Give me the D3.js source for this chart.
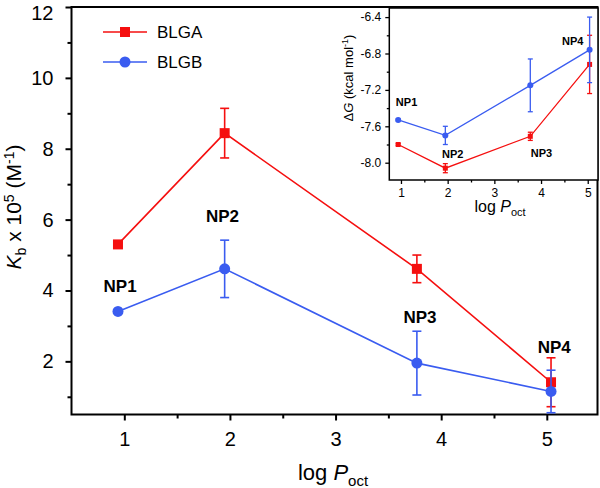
<!DOCTYPE html>
<html>
<head>
<meta charset="utf-8">
<script src="https://cdn.jsdelivr.net/npm/d3@7"></script>
<style>
  html, body { margin: 0; padding: 0; background: #fff; }
  svg { display: block; font-family: "Liberation Sans", Arial, sans-serif; }
</style>
</head>
<body>
<svg id="chart" width="600" height="488"></svg>
<script>
// ---------- data ----------
const compounds = ["NP1", "NP2", "NP3", "NP4"];
const logP = [0.94, 1.95, 3.77, 5.04];
const kbA = [5.30, 8.44, 4.61, 1.41];
const kbAErr = [0.05, 0.70, 0.39, 0.69];
const kbB = [3.41, 4.61, 1.95, 1.15];
const kbBErr = [0.05, 0.81, 0.90, 0.60];
const dGA = [-7.80, -8.06, -7.71, -6.92];
const dGAErr = [0.01, 0.05, 0.045, 0.32];
const dGB = [-7.53, -7.70, -7.15, -6.76];
const dGBErr = [0.01, 0.10, 0.29, 0.36];
const mainXTicks = [1, 2, 3, 4, 5];
const mainXMinor = [1.5, 2.5, 3.5, 4.5];
const mainYTicks = [2, 4, 6, 8, 10, 12];
const mainYMinor = [1, 3, 5, 7, 9, 11];
const insetXTicks = [1, 2, 3, 4, 5];
const insetXMinor = [1.5, 2.5, 3.5, 4.5];
const insetYTicks = [-8.0, -7.6, -7.2, -6.8, -6.4];
const insetYMinor = [-7.8, -7.4, -7.0, -6.6];
// label anchor positions (data units)
const mainLabelX = [0.96, 1.93, 3.80, 5.07];
const mainLabelY = [3.96, 5.93, 3.08, 2.24];
const insetLabelX = [1.12, 2.11, 4.01, 4.68];
const insetLabelY = [-7.377, -7.948, -7.934, -6.706];
const seriesNames = ["BLGA", "BLGB"];

const RED = "#f50f0f";
const BLUE = "#3a5cf0";

const svg = d3.select("#chart");

// ---------- main plot ----------
const x = d3.scaleLinear().domain([0.5, 5.48]).range([71.5, 597.5]);
const y = d3.scaleLinear().domain([0.5, 12]).range([414.5, 7]);

function drawAxes(g, xs, ys, opt) {
  const [x0, x1] = xs.range();
  const [y0, y1] = ys.range();
  const ax = g.append("g").attr("transform", `translate(0,${y0})`)
    .call(d3.axisBottom(xs).tickValues(opt.xt).tickSize(opt.tick).tickPadding(opt.xpad).tickSizeOuter(0).tickFormat(opt.xf));
  ax.select(".domain").remove();
  ax.selectAll("line").attr("stroke-width", opt.sw);
  ax.selectAll("text").attr("font-size", opt.fs).attr("fill", "#000").attr("font-family", "Liberation Sans, Arial, sans-serif");
  const axm = g.append("g").attr("transform", `translate(0,${y0})`)
    .call(d3.axisBottom(xs).tickValues(opt.xm).tickSize(opt.mtick).tickFormat(""));
  axm.select(".domain").remove();
  axm.selectAll("line").attr("stroke-width", opt.sw);

  const ay = g.append("g").attr("transform", `translate(${x0},0)`)
    .call(d3.axisLeft(ys).tickValues(opt.yt).tickSize(opt.tick).tickPadding(opt.ypad).tickSizeOuter(0).tickFormat(opt.yf));
  ay.select(".domain").remove();
  ay.selectAll("line").attr("stroke-width", opt.sw);
  ay.selectAll("text").attr("font-size", opt.fs).attr("fill", "#000").attr("font-family", "Liberation Sans, Arial, sans-serif");
  const aym = g.append("g").attr("transform", `translate(${x0},0)`)
    .call(d3.axisLeft(ys).tickValues(opt.ym).tickSize(opt.mtick).tickFormat(""));
  aym.select(".domain").remove();
  aym.selectAll("line").attr("stroke-width", opt.sw);

  g.append("rect").attr("x", x0).attr("y", y1).attr("width", x1 - x0).attr("height", y0 - y1)
    .attr("fill", "none").attr("stroke", "#000").attr("stroke-width", opt.fw);
  return ay;
}

function drawSeries(g, xs, ys, vals, errs, color, shape, opt) {
  const pts = logP.map((p, i) => ({ x: p, y: vals[i], e: errs[i] }));
  const line = d3.line().x(d => xs(d.x)).y(d => ys(d.y));
  g.append("path").datum(pts).attr("d", line).attr("fill", "none")
    .attr("stroke", color).attr("stroke-width", opt.lw);
  const eb = g.append("g").attr("stroke", color).attr("stroke-width", opt.lw);
  pts.forEach(d => {
    const cx = xs(d.x), yt = ys(d.y + d.e), yb = ys(d.y - d.e);
    eb.append("line").attr("x1", cx).attr("x2", cx).attr("y1", yt).attr("y2", yb);
    eb.append("line").attr("x1", cx - opt.cap).attr("x2", cx + opt.cap).attr("y1", yt).attr("y2", yt);
    eb.append("line").attr("x1", cx - opt.cap).attr("x2", cx + opt.cap).attr("y1", yb).attr("y2", yb);
  });
  if (shape === "square") {
    g.selectAll(null).data(pts).enter().append("rect")
      .attr("x", d => xs(d.x) - opt.ms / 2).attr("y", d => ys(d.y) - opt.ms / 2)
      .attr("width", opt.ms).attr("height", opt.ms).attr("fill", color);
  } else {
    g.selectAll(null).data(pts).enter().append("circle")
      .attr("cx", d => xs(d.x)).attr("cy", d => ys(d.y)).attr("r", opt.r).attr("fill", color);
  }
}

const main = svg.append("g");
const mainY = drawAxes(main, x, y, {
  xt: mainXTicks, xm: mainXMinor, yt: mainYTicks, ym: mainYMinor,
  tick: 6, mtick: 4, xpad: 11, ypad: 12, fs: 20, sw: 2, fw: 2,
  xf: d3.format("d"), yf: d3.format("d")
});
// keep the top tick label inside the picture
mainY.selectAll(".tick text").filter(d => d === 12).attr("dy", "0.6em");

const mopt = { lw: 1.6, cap: 4.5, ms: 10, r: 5.5 };
drawSeries(main, x, y, kbA, kbAErr, RED, "square", mopt);
drawSeries(main, x, y, kbB, kbBErr, BLUE, "circle", mopt);

main.selectAll(null).data(compounds).enter().append("text")
  .attr("x", (d, i) => x(mainLabelX[i])).attr("y", (d, i) => y(mainLabelY[i]))
  .attr("text-anchor", "middle").attr("font-size", 17).attr("font-weight", "bold")
  .text(d => d);

// legend
const leg = main.append("g");
[[RED, "square"], [BLUE, "circle"]].forEach(([c, s], i) => {
  const ly = 32 + i * 30;
  leg.append("line").attr("x1", 103).attr("x2", 147).attr("y1", ly).attr("y2", ly)
    .attr("stroke", c).attr("stroke-width", 1.6);
  if (s === "square") leg.append("rect").attr("x", 120).attr("y", ly - 5).attr("width", 10).attr("height", 10).attr("fill", c);
  else leg.append("circle").attr("cx", 125).attr("cy", ly).attr("r", 5.5).attr("fill", c);
  leg.append("text").attr("x", 157).attr("y", ly + 6.3).attr("font-size", 17).text(seriesNames[i]);
});

// axis titles
const xt = main.append("text").attr("x", 333).attr("y", 480).attr("text-anchor", "middle").attr("font-size", 22);
xt.append("tspan").text("log ");
xt.append("tspan").attr("font-style", "italic").text("P");
xt.append("tspan").attr("font-size", 15).attr("dy", 6).text("oct");

const yt = main.append("text").attr("transform", "translate(21,207) rotate(-90)")
  .attr("text-anchor", "middle").attr("font-size", 21);
yt.append("tspan").attr("font-style", "italic").text("K");
yt.append("tspan").attr("font-size", 14).attr("dy", 5).text("b");
yt.append("tspan").attr("dy", -5).text(" x 10");
yt.append("tspan").attr("font-size", 14).attr("dy", -7).text("5");
yt.append("tspan").attr("dy", 7).text(" (M");
yt.append("tspan").attr("font-size", 14).attr("dy", -7).text("-1");
yt.append("tspan").attr("dy", 7).text(")");

// ---------- inset ----------
const ix = d3.scaleLinear().domain([0.75, 5.22]).range([389.3, 598]);
const iy = d3.scaleLinear().domain([-8.19, -6.30]).range([180, 8]);
const inset = svg.append("g");
inset.append("rect").attr("x", 389.3).attr("y", 8).attr("width", 598 - 389.3).attr("height", 172).attr("fill", "#fff");
drawAxes(inset, ix, iy, {
  xt: insetXTicks, xm: insetXMinor, yt: insetYTicks, ym: insetYMinor,
  tick: 4, mtick: 2.5, xpad: 4, ypad: 4, fs: 12, sw: 1.3, fw: 1.5,
  xf: d3.format("d"), yf: d => d.toFixed(1)
});
const iopt = { lw: 1.3, cap: 2.5, ms: 5, r: 3 };
drawSeries(inset, ix, iy, dGA, dGAErr, RED, "square", iopt);
drawSeries(inset, ix, iy, dGB, dGBErr, BLUE, "circle", iopt);

inset.selectAll(null).data(compounds).enter().append("text")
  .attr("x", (d, i) => ix(insetLabelX[i])).attr("y", (d, i) => iy(insetLabelY[i]))
  .attr("text-anchor", "middle").attr("font-size", 11).attr("font-weight", "bold")
  .text(d => d);

const ixt = inset.append("text").attr("x", 500).attr("y", 212).attr("text-anchor", "middle").attr("font-size", 16);
ixt.append("tspan").text("log ");
ixt.append("tspan").attr("font-style", "italic").text("P");
ixt.append("tspan").attr("font-size", 11).attr("dy", 4).text("oct");

const iyt = inset.append("text").attr("transform", "translate(353,78) rotate(-90)")
  .attr("text-anchor", "middle").attr("font-size", 13);
iyt.append("tspan").text("\u0394");
iyt.append("tspan").attr("font-style", "italic").text("G");
iyt.append("tspan").text(" (kcal mol");
iyt.append("tspan").attr("font-size", 9).attr("dy", -5).text("-1");
iyt.append("tspan").attr("dy", 5).text(")");
</script>
</body>
</html>
